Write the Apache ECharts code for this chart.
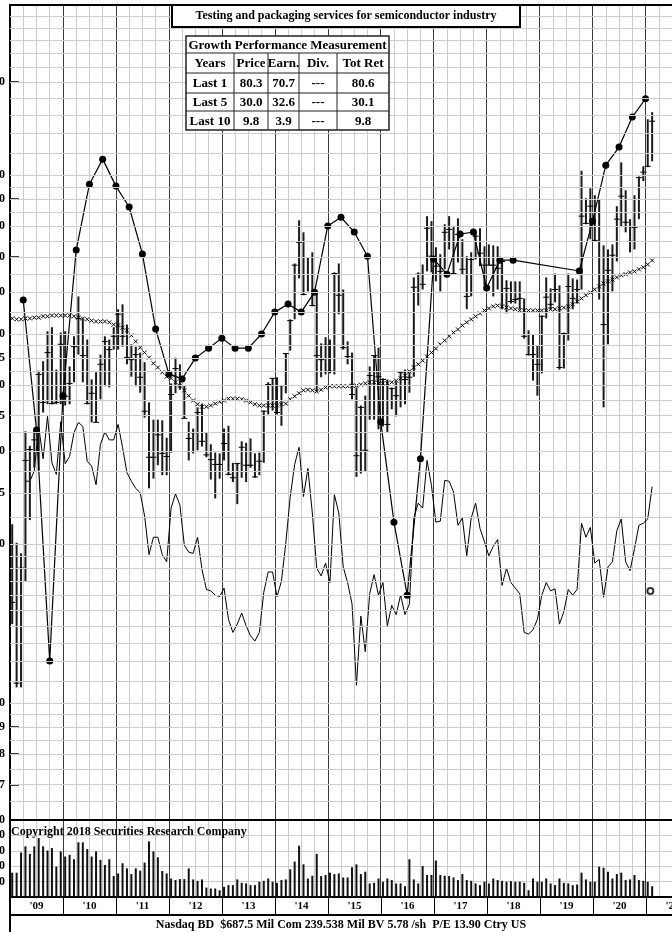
<!DOCTYPE html>
<html>
<head>
<meta charset="utf-8">
<script src="https://cdn.jsdelivr.net/npm/echarts@6.0.0/dist/echarts.min.js"></script>
<style>
  html, body { margin: 0; padding: 0; background: #fff; }
  #chart { width: 672px; height: 932px; }
</style>
</head>
<body>
<div id="chart"></div>
<script>
// monthly data, month 0 = Jan 2009
var priceHigh = [
  21.8, 20.1, 19.2, 32.7, 30.7, 32.7, 42.6, 44.4, 50.6, 51.5,
  42.8, 50.3, 50.6, 43.4, 49.5, 58.9, 53.3, 48.8, 41.0, 42.3,
  45.7, 49.5, 48.8, 51.5, 55.7, 56.9, 52.1, 47.8, 47.3, 46.1,
  44.2, 37.1, 34.4, 34.4, 34.3, 31.8, 40.3, 45.1, 43.8, 39.9,
  34.1, 33.1, 36.3, 36.9, 32.5, 30.9, 29.8, 29.7, 33.1, 33.5,
  28.5, 28.5, 31.3, 31.1, 31.7, 29.7, 29.8, 35.8, 40.5, 41.2,
  41.4, 39.9, 45.9, 53.3, 68.0, 82.1, 77.9, 69.8, 71.4, 59.7,
  48.0, 49.3, 48.8, 65.4, 68.0, 60.7, 48.4, 46.1, 39.6, 36.6,
  38.2, 43.4, 45.5, 47.1, 41.2, 41.0, 39.6, 40.6, 42.5, 42.8,
  42.3, 64.0, 65.4, 67.7, 83.6, 81.8, 73.0, 70.8, 80.7, 83.6,
  80.0, 82.8, 75.6, 70.2, 71.4, 77.9, 79.3, 73.3, 73.9, 73.6,
  73.3, 69.8, 63.2, 62.9, 62.9, 62.9, 58.4, 50.8, 49.9, 47.6,
  54.2, 64.0, 61.0, 65.1, 61.8, 50.3, 65.1, 63.7, 63.4, 101.9,
  90.4, 94.4, 91.6, 90.0, 73.6, 72.3, 73.9, 87.3, 105.7, 93.6,
  82.5, 91.6, 99.4, 103.9, 127.6, 131.6
];
var priceLow = [
  14.1, 10.7, 10.7, 17.0, 22.2, 27.9, 27.6, 35.5, 36.8, 36.8,
  36.8, 36.8, 36.6, 36.8, 40.5, 45.7, 40.5, 36.8, 34.0, 34.0,
  37.6, 39.8, 39.6, 46.7, 46.7, 47.3, 43.8, 41.5, 39.8, 38.7,
  34.7, 25.5, 26.6, 28.2, 27.0, 27.0, 29.8, 38.6, 39.2, 34.6,
  28.8, 29.7, 30.1, 30.6, 29.2, 26.5, 24.4, 26.6, 28.8, 27.0,
  26.2, 23.8, 26.7, 26.2, 27.9, 26.7, 27.0, 28.5, 35.2, 35.8,
  35.2, 33.5, 38.6, 46.5, 53.3, 63.7, 59.2, 60.2, 56.4, 38.9,
  41.4, 41.9, 42.1, 41.9, 54.5, 46.7, 43.8, 37.6, 26.8, 27.2,
  27.4, 34.4, 34.4, 33.0, 33.4, 32.5, 36.0, 34.9, 36.3, 36.8,
  38.7, 41.5, 56.6, 60.7, 65.7, 65.4, 62.9, 60.2, 66.3, 72.3,
  64.9, 68.3, 64.9, 55.7, 58.9, 69.2, 67.2, 61.8, 67.5, 58.9,
  60.7, 55.7, 54.7, 57.1, 57.1, 55.7, 49.0, 45.5, 40.8, 38.2,
  42.1, 53.5, 55.7, 57.4, 42.8, 43.0, 48.6, 55.7, 57.1, 60.7,
  80.7, 75.6, 74.9, 58.1, 36.3, 47.8, 60.2, 68.6, 80.0, 77.9,
  71.4, 72.3, 82.5, 97.4, 103.5, 106.2
];
var priceClose = [
  15.5, 10.9, 18.0, 28.8, 30.2, 31.5, 41.9, 37.1, 46.1, 36.9,
  37.1, 47.8, 38.1, 40.3, 47.3, 53.5, 45.5, 36.9, 38.6, 34.0,
  43.8, 48.4, 46.7, 49.5, 54.5, 49.5, 45.1, 44.7, 45.7, 41.4,
  35.7, 29.2, 29.2, 32.2, 29.7, 29.3, 38.4, 43.0, 39.9, 34.6,
  31.7, 32.5, 35.5, 31.3, 29.5, 28.9, 28.3, 28.3, 31.0, 27.1,
  26.7, 28.4, 30.5, 28.2, 28.2, 26.8, 28.7, 35.7, 40.1, 41.2,
  35.5, 39.9, 45.9, 53.0, 67.5, 74.6, 59.4, 69.8, 56.6, 45.5,
  44.7, 47.6, 42.5, 65.1, 59.2, 47.1, 45.3, 38.4, 29.4, 36.3,
  30.1, 41.7, 45.5, 41.5, 41.0, 33.7, 39.4, 38.2, 42.3, 41.0,
  41.4, 61.3, 64.9, 62.1, 79.3, 70.2, 67.2, 65.7, 77.9, 78.9,
  65.1, 77.2, 66.3, 58.9, 69.2, 76.6, 71.1, 67.5, 67.5, 67.5,
  66.6, 68.6, 61.0, 57.6, 58.1, 58.4, 49.5, 45.7, 45.7, 43.8,
  54.0, 58.7, 56.9, 60.7, 43.2, 50.1, 61.5, 58.4, 60.7, 83.6,
  81.0, 87.3, 75.2, 69.8, 52.1, 66.0, 70.5, 82.5, 91.2, 81.4,
  74.9, 79.6, 98.9, 101.3, 103.9, 126.5
];
var movingAvg = [
  53.5, 53.3, 53.3, 53.5, 53.5, 53.7, 53.7, 54.0, 54.0, 54.2, 54.2, 54.2,
  54.2, 54.2, 54.0, 53.7, 53.5, 53.3, 53.0, 52.8, 52.8, 52.8, 52.6, 52.1,
  51.9, 51.4, 50.8, 49.7, 48.4, 47.1, 46.1, 45.1, 44.0, 43.2, 42.3, 41.5,
  41.2, 40.5, 39.9, 39.1, 38.2, 37.4, 36.8, 36.4, 36.4, 36.6, 36.9, 37.2,
  37.4, 37.7, 37.7, 37.7, 37.6, 37.4, 37.1, 36.8, 36.6, 36.6, 36.6, 36.6,
  36.6, 36.8, 36.9, 37.6, 38.1, 38.6, 39.1, 39.2, 39.1, 38.9, 39.2, 39.6,
  39.8, 39.8, 39.8, 39.8, 39.8, 39.9, 39.9, 40.1, 40.3, 40.5, 40.5, 40.3,
  40.3, 40.3, 40.5, 40.8, 41.2, 41.7, 42.5, 43.2, 43.8, 44.5, 45.3, 46.1,
  46.9, 47.8, 48.6, 49.5, 50.3, 51.0, 51.9, 52.6, 53.3, 54.0, 54.7, 55.4,
  55.9, 56.4, 56.6, 56.4, 56.1, 55.9, 55.7, 55.4, 55.4, 55.4, 55.4, 55.4,
  55.4, 55.4, 55.7, 55.7, 55.9, 56.1, 56.4, 56.9, 57.6, 58.4, 59.2, 59.9,
  60.7, 61.5, 62.3, 62.9, 63.4, 64.0, 64.6, 64.9, 65.4, 65.7, 66.3, 66.9,
  67.7, 68.9
];
var relStrength = [
  null, null, null, 26.3, 26.3, 27.5, 33.4, 29.0, 34.9, 28.5, 27.1, 34.1,
  28.4, 29.3, 32.5, 34.0, 33.4, 28.7, 28.1, 25.9, 30.9, 32.6, 31.5, 31.5,
  33.7, 30.5, 27.3, 26.3, 25.5, 25.0, 22.6, 19.1, 20.6, 20.6, 19.1, 18.5,
  23.4, 24.9, 23.7, 19.9, 19.3, 19.2, 20.6, 17.9, 16.4, 16.3, 16.0, 15.9,
  16.5, 14.4, 13.6, 14.1, 14.8, 14.0, 13.4, 13.1, 13.6, 16.2, 17.7, 17.7,
  15.9, 17.0, 20.1, 24.6, 28.3, 30.5, 24.6, 27.8, 22.9, 18.0, 17.4, 18.4,
  16.9, 24.8, 22.9, 18.1, 16.9, 15.4, 10.8, 14.6, 12.5, 16.1, 17.5, 16.0,
  16.9, 14.0, 15.3, 14.7, 16.0, 14.7, 15.4, 22.4, 23.9, 23.4, 28.8, 25.8,
  22.0, 22.1, 26.4, 26.3, 25.1, 21.7, 22.4, 19.0, 22.4, 23.9, 21.4, 20.2,
  19.0, 19.8, 20.4, 16.7, 18.0, 16.9, 16.5, 16.1, 13.6, 13.5, 13.75, 14.4,
  16.0, 16.9, 16.3, 16.45, 14.1, 14.9, 16.4, 16.0, 16.4, 21.9, 20.6, 21.5,
  18.4, 18.7, 15.85, 18.1, 18.5, 21.2, 22.3, 18.5, 17.8, 19.6, 21.7, 21.9,
  22.3, 25.7
];
var volume = [
  15.8, 15.8, 28.9, 32.9, 28.0, 32.9, 38.3, 32.9, 30.2, 31.8, 19.7, 29.6,
  26.3, 27.4, 24.5, 35.5, 35.5, 31.1, 26.3, 29.6, 24.1, 20.8, 24.5, 13.6,
  15.3, 21.9, 18.6, 14.9, 18.6, 17.1, 22.3, 36.1, 29.6, 25.8, 16.9, 15.3,
  12.0, 11.0, 11.6, 11.6, 18.6, 11.4, 10.5, 11.4, 6.1, 5.5, 5.5, 4.4,
  6.6, 7.7, 7.7, 11.4, 9.2, 8.8, 7.7, 7.7, 9.9, 10.5, 12.0, 9.9,
  9.2, 11.0, 11.4, 18.0, 23.0, 33.3, 21.2, 12.0, 13.8, 28.0, 13.6, 14.3,
  15.8, 14.9, 15.3, 12.7, 12.7, 19.3, 21.2, 14.9, 16.4, 8.8, 9.2, 12.0,
  9.9, 12.0, 11.0, 8.8, 8.8, 7.0, 24.5, 11.4, 8.8, 20.1, 14.3, 14.3,
  23.7, 14.3, 13.8, 13.6, 12.7, 11.0, 14.9, 11.0, 10.5, 8.8, 7.7, 9.9,
  8.8, 12.0, 11.0, 10.5, 9.9, 10.3, 9.9, 9.9, 9.2, 4.4, 12.0, 9.9,
  9.9, 12.0, 8.8, 7.7, 12.0, 9.2, 8.8, 7.7, 8.1, 15.8, 11.4, 9.9,
  9.9, 19.7, 19.0, 16.4, 12.0, 14.9, 15.8, 11.0, 11.4, 14.3, 11.0, 10.5,
  9.9, 7.0
];
// quarterly earnings line (month index, value)
var earnMonths = [3, 6, 9, 12, 15, 18, 21, 24, 27, 30, 33, 36, 39, 42, 45, 48, 51, 54, 57, 60,
  63, 66, 69, 72, 75, 78, 81, 84, 87, 90, 93, 96, 99, 102, 105, 108, 111, 114,
  129, 132, 135, 138, 141, 144];
var earnVals = [58.0, 32.9, 12.0, 38.2, 72.1, 96.1, 107.2, 95.3, 87.0, 70.9, 51.1, 42.0, 41.1, 45.0,
  47.0, 49.1, 47.0, 47.0, 50.0, 55.0, 57.0, 55.0, 60.0, 80.1, 83.2, 78.0, 70.2, 34.1, 22.0,
  16.0, 29.0, 69.3, 64.9, 77.3, 78.0, 61.1, 69.0, 69.0, 65.8, 81.8, 104.4, 113.0, 128.8, 139.5];
var openMarker = [[145.1, 16.3]];

var years = ["'09", "'10", "'11", "'12", "'13", "'14", "'15", "'16", "'17", "'18", "'19", "'20", "'21"];
var priceLabelVals = [7, 8, 9, 10, 20, 25, 30, 35, 40, 45, 50, 60, 70, 80, 90, 100, 150];
var priceTickVals = [7, 8, 9, 70, 90, 150];
var gridVals = [6.5, 7, 7.5, 8, 8.5, 9, 9.5, 10, 11, 12, 13, 14, 15, 16, 17, 18, 19, 20,
  22.5, 25, 27.5, 30, 32.5, 35, 37.5, 40, 42.5, 45, 47.5, 50, 55, 60, 65, 70, 75, 80, 85,
  90, 95, 100, 110, 120, 130, 140, 150, 160, 170, 180, 190, 200];

var titleText = 'Testing and packaging services for semiconductor industry';
var tableTitle = 'Growth Performance Measurement';
var tableRows = [
  ['Years', 'Price', 'Earn.', 'Div.', 'Tot Ret'],
  ['Last 1', '80.3', '70.7', '---', '80.6'],
  ['Last 5', '30.0', '32.6', '---', '30.1'],
  ['Last 10', '9.8', '3.9', '---', '9.8']
];
var footerText = 'Nasdaq BD  $687.5 Mil Com 239.538 Mil BV 5.78 /sh  P/E 13.90 Ctry US';
var copyrightText = 'Copyright 2018 Securities Research Company';

var chart = echarts.init(document.getElementById('chart'));

var serif = '"Liberation Serif", "Times New Roman", serif';
var lightGrid = '#cdcdcd';
var darkGrid = '#3a3a3a';

var barData = priceHigh.map(function (h, i) {
  return [i + 0.5, h, priceLow[i], priceClose[i]];
});
var maData = movingAvg.map(function (v, i) { return [i + 0.5, v]; });
var rsData = relStrength.map(function (v, i) { return [i + 0.5, v]; });
var volData = volume.map(function (v, i) { return [i + 0.5, v]; });
var earnData = earnMonths.map(function (m, i) { return [m, earnVals[i]]; });

function renderBar(params, api) {
  var x = api.value(0);
  var top = api.coord([x, api.value(1)]);
  var bot = api.coord([x, api.value(2)]);
  var cls = api.coord([x, api.value(3)]);
  return {
    type: 'group',
    children: [
      { type: 'line', shape: { x1: top[0], y1: top[1], x2: bot[0], y2: bot[1] },
        style: { stroke: '#1a1a1a', lineWidth: 2 } },
      { type: 'line', shape: { x1: cls[0] - 3, y1: cls[1], x2: cls[0] + 3, y2: cls[1] },
        style: { stroke: '#000', lineWidth: 1 } }
    ]
  };
}

function renderCross(params, api) {
  var p = api.coord([api.value(0), api.value(1)]);
  var s = 2;
  return {
    type: 'group',
    children: [
      { type: 'line', shape: { x1: p[0] - s, y1: p[1] - s, x2: p[0] + s, y2: p[1] + s },
        style: { stroke: '#000', lineWidth: 1 } },
      { type: 'line', shape: { x1: p[0] - s, y1: p[1] + s, x2: p[0] + s, y2: p[1] - s },
        style: { stroke: '#000', lineWidth: 1 } }
    ]
  };
}

// table drawing
var tCols = [186, 234, 268, 299, 337, 389];
var tRows = [36, 53, 73, 93, 111, 130];
var tableEls = [
  { type: 'rect', z: 100, shape: { x: tCols[0], y: tRows[0], width: tCols[5] - tCols[0], height: tRows[5] - tRows[0] },
    style: { fill: '#fff', stroke: '#222', lineWidth: 1.5 } },
  { type: 'text', z: 101, x: (tCols[0] + tCols[5]) / 2, y: (tRows[0] + tRows[1]) / 2 + 1,
    style: { text: tableTitle, font: 'bold 13px ' + serif, fill: '#000', align: 'center', verticalAlign: 'middle' } }
];
for (var r = 1; r < tRows.length - 1; r++) {
  tableEls.push({ type: 'line', z: 101, shape: { x1: tCols[0], y1: tRows[r], x2: tCols[5], y2: tRows[r] },
    style: { stroke: '#222', lineWidth: 1 } });
}
for (var c = 1; c < tCols.length - 1; c++) {
  tableEls.push({ type: 'line', z: 101, shape: { x1: tCols[c], y1: tRows[1], x2: tCols[c], y2: tRows[5] },
    style: { stroke: '#222', lineWidth: 1 } });
}
tableRows.forEach(function (row, ri) {
  row.forEach(function (cell, ci) {
    tableEls.push({ type: 'text', z: 101, x: (tCols[ci] + tCols[ci + 1]) / 2, y: (tRows[ri + 1] + tRows[ri + 2]) / 2 + 1,
      style: { text: cell, font: 'bold 13px ' + serif, fill: '#000', align: 'center', verticalAlign: 'middle' } });
  });
});

var option = {
  animation: false,
  backgroundColor: '#fff',
  grid: [
    { left: 10, right: 0, top: 5, height: 815, outerBoundsMode: 'none', containLabel: false },
    { left: 10, right: 0, top: 820, height: 77, outerBoundsMode: 'none', containLabel: false },
    { left: 10, right: -27, top: 897, height: 18, outerBoundsMode: 'none', containLabel: false,
      show: true, borderColor: '#000', borderWidth: 2 }
  ],
  xAxis: [
    { gridIndex: 0, type: 'value', min: 0, max: 150, interval: 3,
      axisLine: { show: true, onZero: false, lineStyle: { color: '#000', width: 2 } },
      axisTick: { show: false }, axisLabel: { show: false },
      splitLine: { show: true, lineStyle: { color: lightGrid, width: 1 } } },
    { gridIndex: 0, type: 'value', min: 0, max: 150, interval: 12, position: 'top',
      axisLine: { show: true, onZero: false, lineStyle: { color: '#000', width: 2 } },
      axisTick: { show: false }, axisLabel: { show: false },
      splitLine: { show: true, lineStyle: { color: darkGrid, width: 1 } } },
    { gridIndex: 1, type: 'value', min: 0, max: 150, interval: 3,
      axisLine: { show: true, onZero: false, lineStyle: { color: '#000', width: 2 } },
      axisTick: { show: false }, axisLabel: { show: false },
      splitLine: { show: true, lineStyle: { color: lightGrid, width: 1 } } },
    { gridIndex: 1, type: 'value', min: 0, max: 150, interval: 12, position: 'top',
      axisLine: { show: false }, axisTick: { show: false }, axisLabel: { show: false },
      splitLine: { show: true, lineStyle: { color: darkGrid, width: 1 } } },
    { gridIndex: 2, type: 'category', data: years, boundaryGap: true,
      axisLine: { show: false }, axisTick: { show: false },
      axisLabel: { show: true, inside: true, interval: 0, margin: 3,
        fontFamily: serif, fontWeight: 'bold', fontSize: 11, color: '#000' },
      splitLine: { show: true, interval: 0, lineStyle: { color: '#000', width: 1 } } }
  ],
  yAxis: [
    { gridIndex: 0, type: 'log', logBase: 10, min: 6, max: 210, position: 'left',
      axisLine: { show: true, onZero: false, lineStyle: { color: '#000', width: 2 } },
      axisTick: { show: false }, axisLabel: { show: false }, splitLine: { show: false } },
    { gridIndex: 0, type: 'value', position: 'left',
      min: Math.log10(6), max: Math.log10(210),
      axisLine: { show: false },
      axisTick: { show: true, inside: true, length: 9,
        customValues: priceTickVals.map(Math.log10),
        lineStyle: { color: '#000', width: 1.5 } },
      axisLabel: { show: true, margin: 5,
        customValues: priceLabelVals.map(Math.log10),
        formatter: function (v) { return String(Math.round(Math.pow(10, v))); },
        fontFamily: serif, fontWeight: 'bold', fontSize: 12, color: '#000' },
      splitLine: { show: false } },
    { gridIndex: 1, type: 'value', min: 0, max: 50, interval: 10, position: 'left',
      axisLine: { show: true, onZero: false, lineStyle: { color: '#000', width: 2 } },
      axisTick: { show: false },
      axisLabel: { show: true, margin: 5, showMinLabel: false,
        fontFamily: serif, fontWeight: 'bold', fontSize: 12, color: '#000' },
      splitLine: { show: true, lineStyle: { color: lightGrid, width: 1 } } },
    { gridIndex: 2, type: 'value', show: false }
  ],
  series: [
    { name: 'RS', type: 'line', xAxisIndex: 0, yAxisIndex: 0, z: 1,
      data: rsData, showSymbol: false, symbol: 'none', connectNulls: false,
      lineStyle: { color: '#000', width: 1 },
      markLine: { silent: true, symbol: 'none', label: { show: false },
        lineStyle: { color: lightGrid, width: 1, type: 'solid' },
        emphasis: { disabled: true },
        data: gridVals.map(function (v) { return { yAxis: v }; }) } },
    { name: 'Price', type: 'custom', xAxisIndex: 0, yAxisIndex: 0, z: 3,
      renderItem: renderBar, data: barData, encode: { x: 0, y: [1, 2, 3] } },
    { name: 'MA', type: 'custom', xAxisIndex: 0, yAxisIndex: 0, z: 3,
      renderItem: renderCross, data: maData, encode: { x: 0, y: 1 } },
    { name: 'Earnings', type: 'line', xAxisIndex: 0, yAxisIndex: 0, z: 4,
      data: earnData, symbol: 'circle', symbolSize: 7,
      itemStyle: { color: '#000' }, lineStyle: { color: '#000', width: 1.2 } },
    { name: 'Marker', type: 'scatter', xAxisIndex: 0, yAxisIndex: 0, z: 4,
      data: openMarker, symbol: 'emptyCircle', symbolSize: 6,
      itemStyle: { color: '#000', borderWidth: 1 } },
    { name: 'Volume', type: 'bar', xAxisIndex: 2, yAxisIndex: 2, z: 3,
      data: volData, barWidth: 2, itemStyle: { color: '#111' } }
  ],
  graphic: [
    { type: 'rect', z: 100, shape: { x: 172, y: 5, width: 348, height: 22 },
      style: { fill: '#fff', stroke: '#000', lineWidth: 2 } },
    { type: 'text', z: 101, x: 346, y: 16,
      style: { text: titleText, font: 'bold 12px ' + serif, fill: '#000', align: 'center', verticalAlign: 'middle' } },
    { type: 'group', z: 100, children: tableEls },
    { type: 'text', z: 100, x: 11, y: 832,
      style: { text: copyrightText, font: 'bold 12px ' + serif, fill: '#000', align: 'left', verticalAlign: 'middle' } },
    { type: 'text', z: 100, x: 341, y: 925,
      style: { text: footerText, font: 'bold 12px ' + serif, fill: '#000', align: 'center', verticalAlign: 'middle' } },
    { type: 'line', z: 100, shape: { x1: 10, y1: 915, x2: 10, y2: 932 },
      style: { stroke: '#000', lineWidth: 2 } }
  ]
};

chart.setOption(option);
window.onresize = function () {
  chart.resize();
};
</script>
</body>
</html>
